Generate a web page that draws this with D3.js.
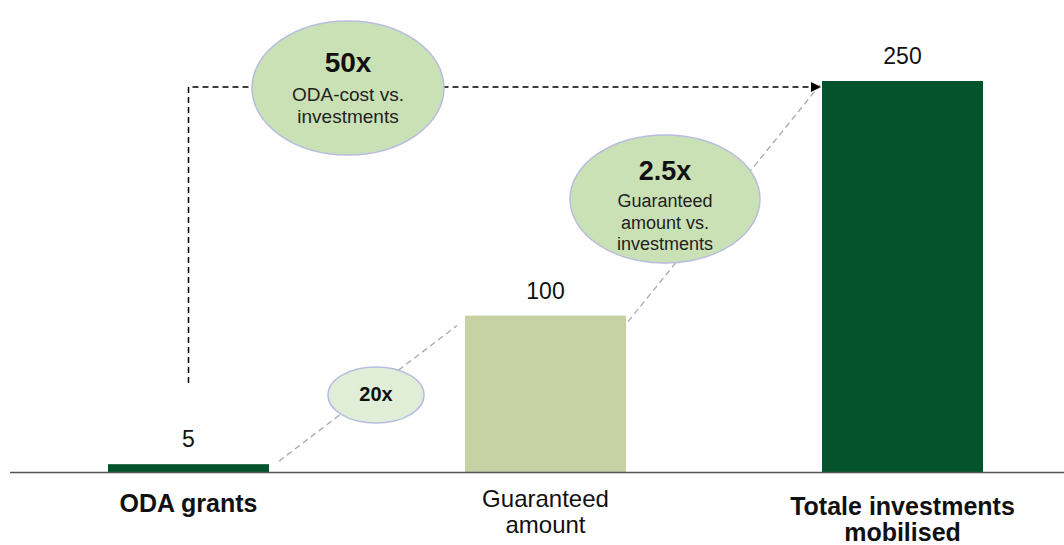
<!DOCTYPE html>
<html lang="en">
  <head>
    <meta charset="UTF-8">
    <title>ODA leverage</title>
    <style>
body{ margin:0; background:#fff; }
svg{ display:block; font-family:"Liberation Sans", Arial, sans-serif; }
    </style>
  </head>
  <body>
    <script src="https://cdn.jsdelivr.net/npm/d3@7/dist/d3.min.js"></script>
    <script>
var categories = ["ODA grants", "Guaranteed amount", "Totale investments mobilised"];
var values = [5, 100, 250];
var valueLabels = ["5", "100", "250"];
var catLines = [["ODA grants"], ["Guaranteed", "amount"], ["Totale investments", "mobilised"]];
var catBold = [true, false, true];
var barColors = ["#04532c", "#c8d1a4", "#04532c"];
var ratios = ["50x", "2.5x", "20x"];
var ratioNotes = [["ODA-cost vs.", "investments"], ["Guaranteed", "amount vs.", "investments"], []];

var width = 1064, height = 545, base = 472;

var svg = d3.select("body").append("svg")
    .attr("width", width)
    .attr("height", height);

var x = d3.scaleBand()
    .domain(categories)
    .range([10, 1081])
    .paddingInner(0.549)
    .paddingOuter(0.2745);

var y = d3.scaleLinear()
    .domain([0, 250])
    .range([base, 81]);

svg.append("defs").append("marker")
    .attr("id", "arrow")
    .attr("viewBox", "0 0 10 10")
    .attr("refX", 9).attr("refY", 5)
    .attr("markerWidth", 7).attr("markerHeight", 7)
    .attr("orient", "auto")
  .append("path")
    .attr("d", "M0,0L10,5L0,10Z")
    .attr("fill", "#000");

// grey dashed connectors between bar tops
var bx = function(i){ return x(categories[i]); };
var bw = x.bandwidth();
svg.append("line")
    .attr("x1", bx(0) + bw + 10).attr("y1", y(values[0]) - 3)
    .attr("x2", bx(1) - 8).attr("y2", y(values[1]) + 10)
    .attr("stroke", "#a8a8a8").attr("stroke-width", 1.3)
    .attr("stroke-dasharray", "6,4");
svg.append("line")
    .attr("x1", bx(1) + bw + 2).attr("y1", y(values[1]) + 6)
    .attr("x2", bx(2) - 2).attr("y2", y(values[2]) + 4)
    .attr("stroke", "#a8a8a8").attr("stroke-width", 1.3)
    .attr("stroke-dasharray", "6,4");

// black dashed arrow from ODA to total
var ax = bx(0) + bw / 2;
svg.append("path")
    .attr("d", "M" + ax + ",383V87H" + (bx(2) - 2))
    .attr("fill", "none")
    .attr("stroke", "#000").attr("stroke-width", 1.5)
    .attr("stroke-dasharray", "6,4")
    .attr("marker-end", "url(#arrow)");

// bars
svg.selectAll("rect.bar").data(values).enter().append("rect")
    .attr("class", "bar")
    .attr("x", function(d, i){ return bx(i); })
    .attr("y", function(d){ return y(d); })
    .attr("width", bw)
    .attr("height", function(d){ return base - y(d); })
    .attr("fill", function(d, i){ return barColors[i]; });

// axis line
svg.append("line")
    .attr("x1", 10).attr("x2", width)
    .attr("y1", base + 0.5).attr("y2", base + 0.5)
    .attr("stroke", "#555").attr("stroke-width", 1.3);

// value labels
svg.selectAll("text.val").data(values).enter().append("text")
    .attr("class", "val")
    .attr("x", function(d, i){ return bx(i) + bw / 2; })
    .attr("y", function(d){ return y(d) - 17; })
    .attr("text-anchor", "middle")
    .attr("font-size", 23)
    .attr("fill", "#111")
    .text(function(d, i){ return valueLabels[i]; });

// category labels
var catY = [512, 507, 515];
categories.forEach(function(c, i){
    var t = svg.append("text")
        .attr("x", bx(i) + bw / 2)
        .attr("y", catY[i])
        .attr("text-anchor", "middle")
        .attr("font-size", catBold[i] ? 25 : 24)
        .attr("font-weight", catBold[i] ? "bold" : "normal")
        .attr("fill", "#111");
    catLines[i].forEach(function(l, j){
        t.append("tspan").attr("x", bx(i) + bw / 2).attr("dy", j ? 26 : 0).text(l);
    });
});

// ratio bubbles
var bubbles = [
    {cx: 348, cy: 88, rx: 96, ry: 67, fill: "#c9e1b5", top: 72, big: 28, small: 19, gap: [29, 22]},
    {cx: 665, cy: 199, rx: 95, ry: 64, fill: "#c9e1b5", top: 180, big: 27, small: 18, gap: [27, 22, 21]},
    {cx: 376, cy: 395, rx: 48, ry: 28, fill: "#e1eed7", top: 401, big: 20, small: 18, gap: []}
];
bubbles.forEach(function(b, i){
    svg.append("ellipse")
        .attr("cx", b.cx).attr("cy", b.cy)
        .attr("rx", b.rx).attr("ry", b.ry)
        .attr("fill", b.fill)
        .attr("stroke", "#b8bde0").attr("stroke-width", 1.5);
    svg.append("text")
        .attr("x", b.cx).attr("y", b.top)
        .attr("text-anchor", "middle")
        .attr("font-size", b.big)
        .attr("font-weight", "bold")
        .attr("fill", "#111")
        .text(ratios[i]);
    var yy = b.top;
    ratioNotes[i].forEach(function(l, j){
        yy += b.gap[j];
        svg.append("text")
            .attr("x", b.cx).attr("y", yy)
            .attr("text-anchor", "middle")
            .attr("font-size", b.small)
            .attr("fill", "#222")
            .text(l);
    });
});
    </script>
  </body>
</html>
